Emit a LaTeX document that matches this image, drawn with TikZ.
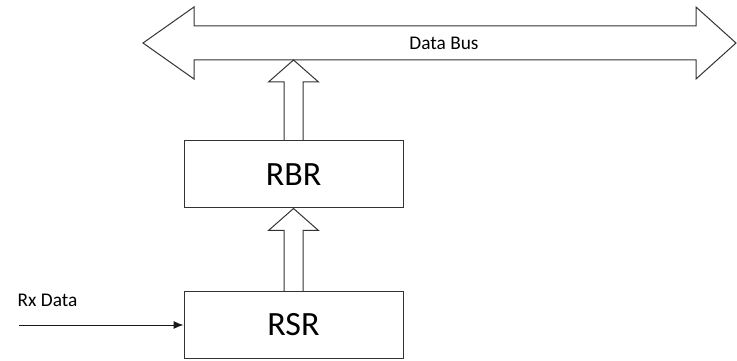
\documentclass[tikz,border=0pt]{standalone}
\usepackage{fontspec}
\setmainfont{Carlito}
\usetikzlibrary{arrows.meta,calc}

\begin{document}
\begin{tikzpicture}[x=0.75pt,y=0.75pt,line width=0.75pt,
                    line join=miter,
                    outline/.style={draw=black!80},
                    regbox/.style={outline,minimum width=164.25pt,
                        minimum height=50.25pt,inner sep=0pt,
                        font=\fontsize{25.5}{30}\selectfont},
                    smalltext/.style={font=\fontsize{14.5}{16}\selectfont,
                        inner sep=0pt}]
    % Fix the frame of the picture.
    \useasboundingbox (0,0) rectangle (737,360);

    % Draw the data bus.
    \draw[outline] (143,317) -- (194,353) -- (194,334) -- (696,334)
        -- (696,353) -- (736,317) -- (696,281) -- (696,300)
        -- (194,300) -- (194,281) -- cycle;
    \node[smalltext] (bus) at (444,317) {Data Bus};
    \coordinate (busbot) at (293.5,300);

    % Registers.
    \node[regbox] (rbr) at (293.5,185.5) {\raisebox{-2pt}{RBR}};
    \node[regbox] (rsr) at (293.5,35) {\raisebox{-2pt}{RSR}};

    % Hollow arrows going up.
    \foreach \src/\dst in {rsr.north/rbr.south,rbr.north/busbot} {
        \draw[outline] ($(\src)+(-9.5,0)$) -- ($(\dst)+(-9.5,-22)$)
            -- ($(\dst)+(-25,-22)$) -- (\dst) -- ($(\dst)+(25,-22)$)
            -- ($(\dst)+(9.5,-22)$) -- ($(\src)+(9.5,0)$);
    }

    % Serial input.
    \coordinate (rxin) at (19,35);
    \node[smalltext] (rxlabel) at (47.5,60) {Rx Data};
    \draw[black!90,-{Latex[length=7.5pt,width=6pt]}] (rxin) -- (rxin -| rsr.west);
\end{tikzpicture}
\end{document}
